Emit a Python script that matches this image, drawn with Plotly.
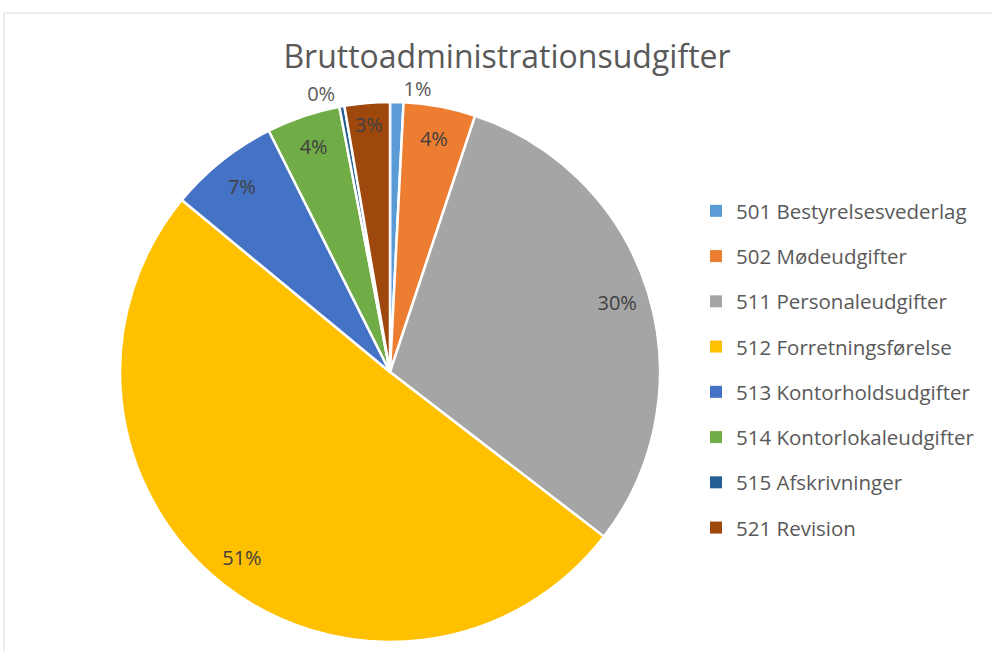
import plotly.graph_objects as go

W, H = 992, 651

labels = [
    "501 Bestyrelsesvederlag",
    "502 Mødeudgifter",
    "511 Personaleudgifter",
    "512 Forretningsførelse",
    "513 Kontorholdsudgifter",
    "514 Kontorlokaleudgifter",
    "515 Afskrivninger",
    "521 Revision",
]
shares = [0.8, 4.3, 30.3, 50.5, 6.6, 4.4, 0.3, 2.7]
colors = ["#5B9BD5", "#ED7D31", "#A5A5A5", "#FFC000", "#4472C4", "#70AD47", "#255E91", "#9E480E"]
text_pos = ["outside", "inside", "inside", "inside", "inside", "inside", "outside", "inside"]

FONT = "Open Sans"

# pie placement in pixels: centre (390, 372), radius 270
cx, cy, r = 390, 372, 270
domain = dict(x=[(cx - r) / W, (cx + r) / W], y=[(H - cy - r) / H, (H - cy + r) / H])

fig = go.Figure()

# coloured slices, no text
fig.add_trace(go.Pie(
    labels=labels, values=shares, sort=False, direction="clockwise", rotation=0,
    marker=dict(colors=colors, line=dict(color="white", width=2.5)),
    textinfo="none", domain=domain, showlegend=False, hoverinfo="label+percent",
))

# transparent ring on top to place the percentage labels near the rim
fig.add_trace(go.Pie(
    labels=labels, values=shares, sort=False, direction="clockwise", rotation=0,
    hole=0.76, marker=dict(colors=["rgba(0,0,0,0)"] * len(labels), line=dict(width=0)),
    texttemplate="%{percent:.0%}", textposition=text_pos,
    insidetextorientation="horizontal",
    insidetextfont=dict(family=FONT, size=20, color="#404040"),
    outsidetextfont=dict(family=FONT, size=20, color="#595959"),
    domain=domain, showlegend=False, hoverinfo="skip",
))

# legend entries
for name, col in zip(labels, colors):
    fig.add_trace(go.Scatter(
        x=[None], y=[None], mode="markers", name=name, legendgroup=name,
        marker=dict(symbol="square", size=8, color=col),
    ))

fig.update_layout(
    width=W, height=H,
    margin=dict(l=0, r=0, t=0, b=0),
    paper_bgcolor="white", plot_bgcolor="white",
    font=dict(family=FONT, color="#595959"),
    title=dict(text="Bruttoadministrationsudgifter", x=507 / W, xanchor="center",
               y=1 - 57 / H, yanchor="middle", font=dict(family=FONT, size=32, color="#595959")),
    xaxis=dict(visible=False), yaxis=dict(visible=False),
    legend=dict(x=696 / W, xanchor="left", y=1 - 191 / H, yanchor="top",
                font=dict(family=FONT, size=20.5, color="#595959"),
                tracegroupgap=15.6, itemsizing="constant", bgcolor="rgba(0,0,0,0)"),
    shapes=[dict(type="rect", xref="paper", yref="paper",
                 x0=4 / W, x1=1.05, y0=-0.05, y1=1 - 13 / H,
                 line=dict(color="#D9D9D9", width=1))],
)

fig.write_html("out.html", config={"displayModeBar": False},
               post_script="document.body.style.margin='0';")
